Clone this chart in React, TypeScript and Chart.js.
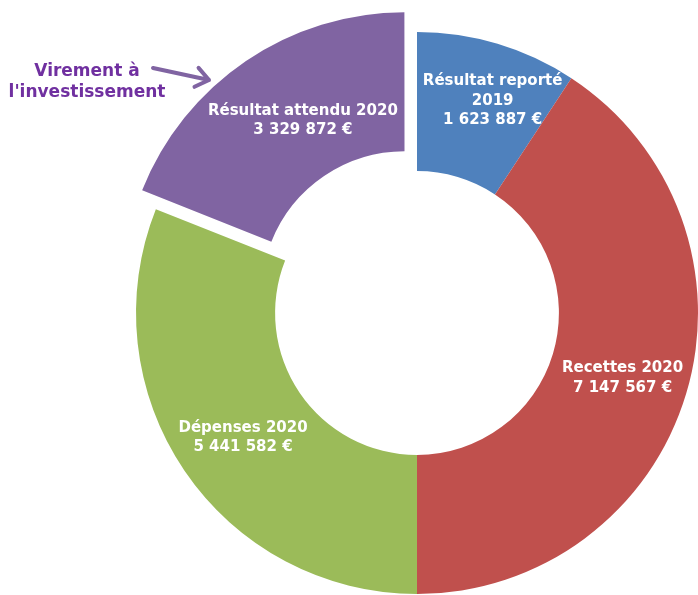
import React, { useEffect, useRef } from "react";
import { Chart, registerables } from "chart.js";

Chart.register(...registerables);

const categories = ["Résultat reporté 2019", "Recettes 2020", "Dépenses 2020", "Résultat attendu 2020"];
const labelLines = [["Résultat reporté", "2019"], ["Recettes 2020"], ["Dépenses 2020"], ["Résultat attendu 2020"]];
const values = [1623887, 7147567, 5441582, 3329872];
const colors = ["#4F81BD", "#C0504D", "#9BBB59", "#8064A2"];
// Chart.js translates an arc by offset / 4 pixels -> 88 gives a 22px explode
const sliceOffsets = [0, 0, 0, 88];
const annotationLines = ["Virement à", "l'investissement"];

// small per-label placement tweaks (style, not data)
const labelNudge = [
  [15, -11],
  [3, 3],
  [1, 4],
  [17, -1],
];

const fmt = (v: number) => String(v).replace(/\B(?=(\d{3})+(?!\d))/g, " ") + " €";

const labelPlugin = {
  id: "sliceLabels",
  afterDatasetsDraw(chart: any) {
    const ctx = chart.ctx;
    const meta = chart.getDatasetMeta(0);
    ctx.save();
    ctx.font = 'bold 15px "DejaVu Sans"';
    ctx.fillStyle = "#ffffff";
    ctx.textAlign = "center";
    ctx.textBaseline = "alphabetic";
    const lh = 19.5;
    meta.data.forEach((arc: any, i: number) => {
      const { x, y, startAngle, endAngle, innerRadius, outerRadius } = arc;
      const half = (startAngle + endAngle) / 2;
      const shift = (arc.options.offset || 0) / 4;
      const r = (innerRadius + outerRadius) / 2 + shift;
      const px = x + Math.cos(half) * r + labelNudge[i][0];
      const py = y + Math.sin(half) * r + labelNudge[i][1];
      const lines = [...labelLines[i], fmt(values[i])];
      lines.forEach((t, k) => {
        const cy = py + (k - (lines.length - 1) / 2) * lh;
        ctx.fillText(t, px, cy + 5.5);
      });
    });

    // annotation
    ctx.font = 'bold 17px "DejaVu Sans"';
    ctx.fillStyle = "#7030A0";
    ctx.fillText(annotationLines[0], 87, 76);
    ctx.fillText(annotationLines[1], 87, 97);

    // arrow
    const x1 = 153, y1 = 68, x2 = 209, y2 = 80;
    ctx.strokeStyle = "#8064A2";
    ctx.lineWidth = 4;
    ctx.lineCap = "round";
    ctx.lineJoin = "round";
    ctx.beginPath();
    ctx.moveTo(x1, y1);
    ctx.lineTo(x2, y2);
    const ang = Math.atan2(y2 - y1, x2 - x1);
    const wl = 16, wa = 0.65;
    ctx.moveTo(x2 - wl * Math.cos(ang - wa), y2 - wl * Math.sin(ang - wa));
    ctx.lineTo(x2, y2);
    ctx.lineTo(x2 - wl * Math.cos(ang + wa), y2 - wl * Math.sin(ang + wa));
    ctx.stroke();
    ctx.restore();
  },
};

export default function App() {
  const ref = useRef<HTMLCanvasElement | null>(null);
  useEffect(() => {
    if (!ref.current) return;
    const chart = new Chart(ref.current, {
      type: "doughnut",
      data: {
        labels: categories,
        datasets: [
          {
            data: values,
            backgroundColor: colors,
            borderWidth: 0,
            offset: sliceOffsets,
            hoverOffset: 0,
          },
        ],
      },
      options: {
        responsive: false,
        animation: false,
        cutout: "50.5%",
        radius: 281,
        layout: { padding: { left: 125, top: 21, right: 11, bottom: 15 } },
        plugins: { legend: { display: false }, tooltip: { enabled: false } },
        events: [],
      },
      plugins: [labelPlugin],
    });
    return () => chart.destroy();
  }, []);
  return (
    <div style={{ position: "fixed", left: 0, top: 0, width: 698, height: 595, overflow: "hidden", background: "#fff" }}>
      <canvas ref={ref} width={720} height={620} style={{ width: 720, height: 620, display: "block" }} />
    </div>
  );
}
